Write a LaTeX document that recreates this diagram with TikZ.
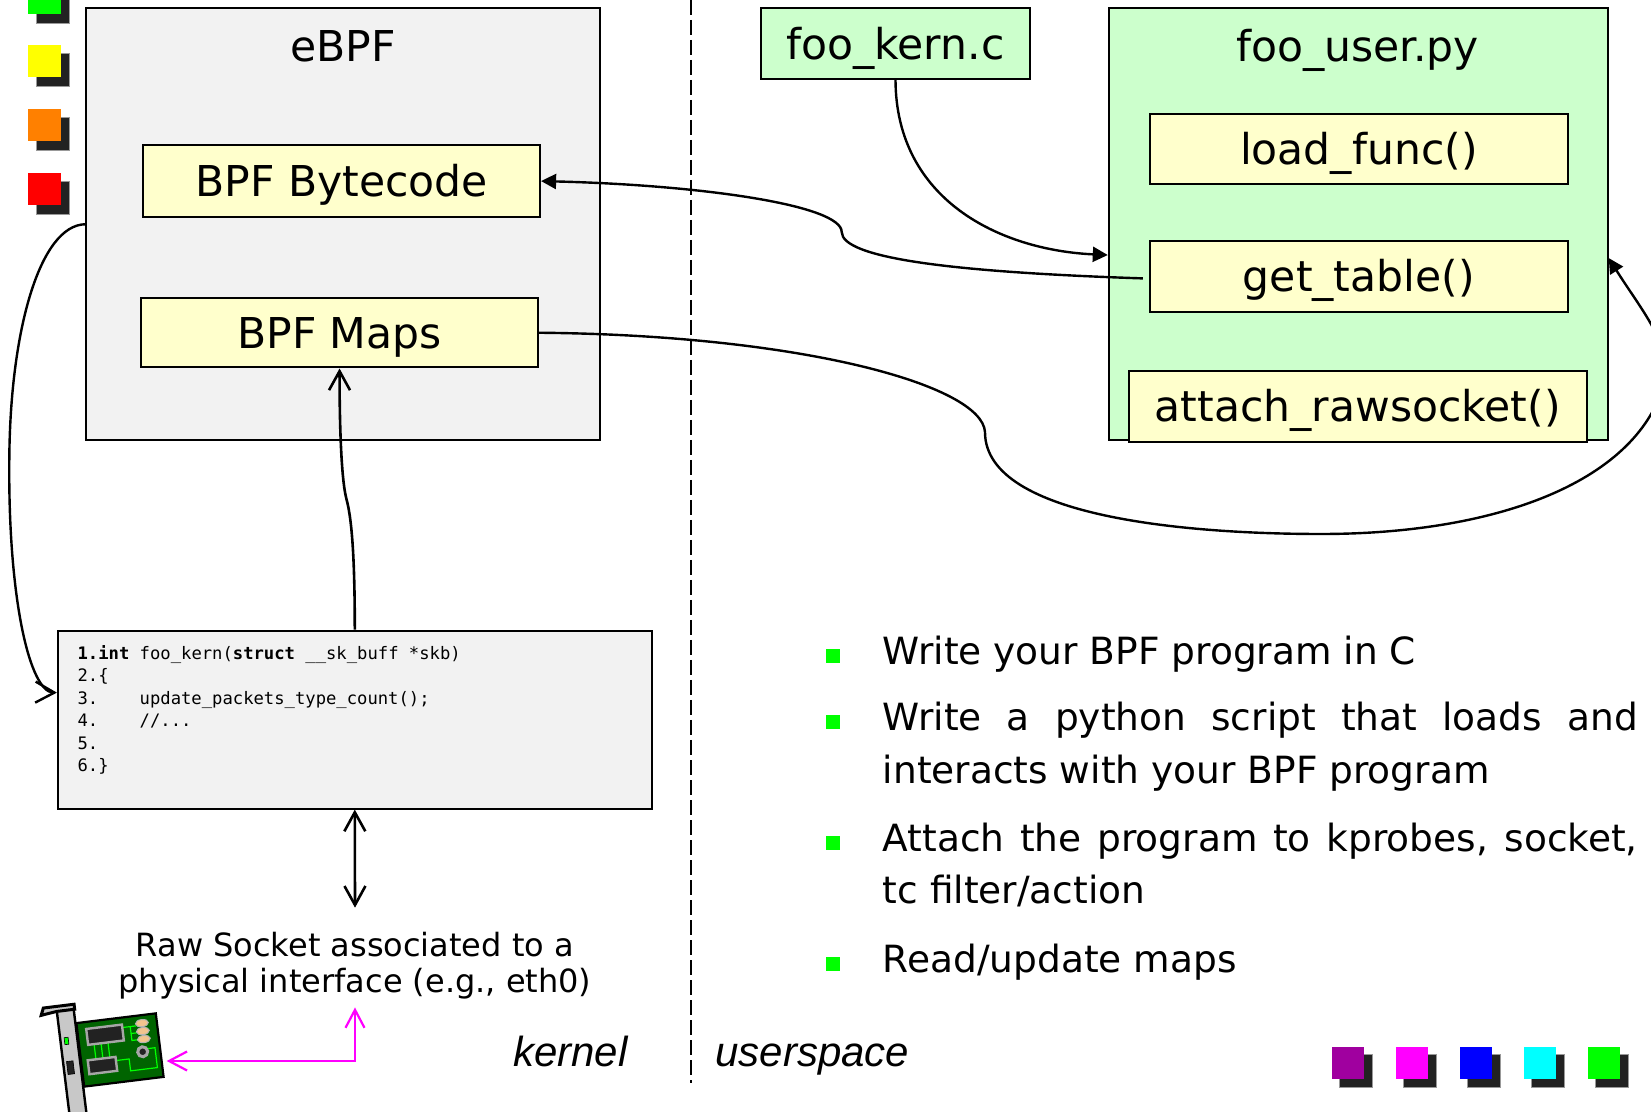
\documentclass[tikz,border=0pt]{standalone}
\usepackage{fontspec}
\setmainfont{DejaVu Sans}
\newfontfamily\codefont{DejaVu Sans Mono}
\newfontfamily\italfont{Liberation Sans}
\usetikzlibrary{arrows.meta}

\definecolor{panelgray}{HTML}{F2F2F2}
\definecolor{boxyellow}{HTML}{FFFFCC}
\definecolor{boxgreen}{HTML}{CCFFCC}
\definecolor{shadowgray}{HTML}{222222}
\definecolor{sqpurple}{HTML}{A0009F}
\definecolor{sqmagenta}{HTML}{FF00FF}
\definecolor{sqblue}{HTML}{0000FF}
\definecolor{sqcyan}{HTML}{00FFFF}
\definecolor{sqgreen}{HTML}{00FF00}
\definecolor{sqyellow}{HTML}{FFFF00}
\definecolor{sqorange}{HTML}{FF8000}
\definecolor{sqred}{HTML}{FF0000}
\definecolor{linkmagenta}{HTML}{FF00FF}
\definecolor{boardgreen}{HTML}{006400}
\definecolor{padtan}{HTML}{F2C48E}
\definecolor{bracketgray}{HTML}{C8C8C8}
\definecolor{tracegreen}{HTML}{00FF00}

% one justified bullet paragraph
\newcommand\itempar[1]{\parbox[t]{377.5pt}{\fontsize{18.75pt}{26.3pt}\selectfont
  \tolerance=9999 \hyphenpenalty=10000 \exhyphenpenalty=10000 #1}}

\begin{document}
\begin{tikzpicture}[x=0.5pt,y=-0.5pt,
  bigfont/.style={font=\fontsize{21.25pt}{25pt}\selectfont},
  panel/.style={draw=black,line width=0.9pt,inner sep=0pt},
  funcbox/.style={draw=black,line width=1pt,fill=boxyellow,inner sep=0pt,
      text height=15.5pt,text depth=0pt,bigfont,minimum height=35.3pt},
  title/.style={bigfont,anchor=base,inner sep=0pt},
  link/.style={draw=black,line width=1.2pt},
  barb/.style={-{Straight Barb[length=9.5pt,width=10.5pt]}},
  dbarb/.style={{Straight Barb[length=9.5pt,width=10.5pt]}-{Straight Barb[length=9.5pt,width=10.5pt]}},
  tri/.style={-{Triangle[length=7.5pt,width=7.5pt]}},
  hwlink/.style={draw=linkmagenta,line width=1.1pt,
      {Straight Barb[length=9pt,width=9.5pt]}-{Straight Barb[length=9pt,width=9.5pt]}},
  bullet/.style={fill=tracegreen,minimum size=7pt,inner sep=0pt},
  itemtext/.style={anchor=base west,inner sep=0pt},
  shadowsq/.style={fill=shadowgray,draw=gray!80,line width=0.4pt},
  spacelabel/.style={anchor=base west,inner sep=0pt,font=\italfont\itshape\fontsize{21pt}{25pt}\selectfont}
]
\useasboundingbox (0,0) rectangle (1651,1112);

% decorative squares, top left
\foreach \c/\yy in {sqgreen/-18.3, sqyellow/45, sqorange/109, sqred/173} {
  \filldraw[shadowsq] (36,\yy+8.3) rectangle ++(33.5,33.5);
  \fill[\c] (28,\yy) rectangle ++(33,32);
}
% decorative squares, bottom right
\foreach \c [count=\i from 0] in {sqpurple,sqmagenta,sqblue,sqcyan,sqgreen} {
  \filldraw[shadowsq] (1339.3+64*\i,1054) rectangle ++(33,33.5);
  \fill[\c] (1332+64*\i,1046.7) rectangle ++(32,32.3);
}

% kernel / userspace divider
\draw[black,line width=1pt,dash pattern=on 7.5pt off 2.5pt] (690.7,0) -- (690.7,1083);

% kernel side
\node[panel,fill=panelgray,minimum width=257pt,minimum height=215.85pt] (ebpf) at (343.25,224.25) {};
\node[title] (ebpftitle) at (343.3,62) {eBPF};
\node[funcbox,minimum width=198.45pt,minimum height=35.8pt] (bytecode) at (341.65,181.1) {BPF Bytecode};
\node[funcbox,minimum width=198.45pt,minimum height=34.75pt] (maps) at (339.55,332.75) {BPF Maps};

\node[panel,line width=1pt,fill=panelgray,minimum width=296.9pt,minimum height=88.95pt] (code) at (354.8,719.65) {};
\node[anchor=base west,inner sep=0pt] (listing) at (77.2,659.3) {\parbox[t]{280pt}{\raggedright
  \codefont\fontsize{8.6pt}{11.25pt}\selectfont
  \textbf{1.int} foo\_kern(\textbf{struct} \_\_sk\_buff *skb)\\
  2.\{\\
  3.\ \ \ \ update\_packets\_type\_count();\\
  4.\ \ \ \ //...\\
  5.\\
  6.\}}};

\node[anchor=base,inner sep=0pt] (socket) at (355,956) {\parbox[t]{250pt}{\centering
  \fontsize{16pt}{18pt}\selectfont Raw Socket associated to a\\ physical interface (e.g., eth0)}};

% network card
\begin{scope}[rotate around={7:(120,1050)}]
  \filldraw[fill=bracketgray,draw=black,line width=1.2pt] (62,1002) -- (79,1002) -- (79,1135) -- (62,1135) -- cycle;
  \filldraw[fill=bracketgray,draw=black,line width=1.5pt] (46,1006) -- (49,999) -- (80,999) -- (80,1004) -- (62,1004) -- cycle;
  \filldraw[fill=tracegreen,draw=black,line width=0.3pt] (66,1031) rectangle (70,1038);
  \filldraw[fill=shadowgray,draw=black,line width=0.3pt] (65.5,1055) rectangle (72,1068);
  \filldraw[fill=boardgreen,draw=black,line width=1.1pt] (80,1018) rectangle (160,1082);
  \draw[tracegreen,line width=0.6pt] (125,1028) -- (139,1028) (133,1028) -- (133,1042) -- (139,1042) (133,1035) -- (139,1035)
     (95,1041) -- (95,1057) (102,1041) -- (102,1057) (109,1041) -- (109,1057)
     (114.7,1060) -- (128,1060) -- (128,1072) -- (155,1072) -- (155,1052) -- (147,1052);
  \filldraw[fill=shadowgray,draw=gray!70,line width=1.2pt] (89,1025) rectangle (125,1041);
  \filldraw[fill=shadowgray,draw=gray!70,line width=1.2pt] (86.7,1056.3) rectangle (114.7,1070.3);
  \foreach \py in {1026,1034,1042}
    \filldraw[fill=padtan,draw=gray!60,line width=0.5pt] (145,\py) ellipse [x radius=6.5,y radius=3.6];
  \filldraw[fill=shadowgray,draw=gray!70,line width=1.5pt] (142.3,1054.5) circle [radius=5];
\end{scope}
\coordinate (nicport) at (166.7,1061);

% userspace side
\node[funcbox,fill=boxgreen,minimum width=134.2pt,minimum height=35.3pt] (fookern) at (895.5,43.7) {foo\_kern.c};
\node[panel,fill=boxgreen,minimum width=249.55pt,minimum height=215.85pt] (foouser) at (1358.25,224.25) {};
\node[title] (footitle) at (1357.7,62) {foo\_user.py};
\node[funcbox,minimum width=209pt] (loadfunc) at (1358.8,149) {load\_func()};
\node[funcbox,minimum width=209pt] (gettable) at (1358.8,276.4) {get\_table()};
\node[funcbox,minimum width=229pt,minimum height=35.8pt] (attach) at (1357.7,406.4) {attach\_rawsocket()};

% connectors
\draw[link,tri] ([xshift=-3pt,yshift=-1pt]gettable.west) .. controls (950,272) and (842,258) .. (841.7,232)
   .. controls (841.7,205) and (700,185) .. (bytecode.east);
\draw[link,tri] (fookern.south) .. controls (896,200) and (1000,250) .. ([yshift=-15.4pt]foouser.west);
\draw[link,tri] (maps.east) .. controls (800,335) and (982,385) .. (985,432)
   .. controls (985,520) and (1200,534) .. (1321,534)
   .. controls (1500,534) and (1640,480) .. (1665,380)
   .. controls (1672,345) and (1640,308) .. ([yshift=-16.9pt]foouser.east);
\draw[link,barb] (ebpf.west) .. controls (40,225) and (10,330) .. (9.3,460)
   .. controls (8,600) and (30,692) .. ([yshift=13.5pt]code.west);
\draw[link,line width=1.3pt,barb] (code.north) .. controls (354.8,560) and (352,520) .. (346.7,500)
   .. controls (341,480) and (339.5,420) .. (maps.south);
\draw[link,line width=1.3pt,dbarb] (code.south) -- ([yshift=11.8pt]socket.north);
\draw[hwlink] (nicport) -| ([yshift=-4.2pt]socket.south);

% bullet list
\node[bullet] (b1) at (833,656) {};
\node[bullet] (b2) at (833,722) {};
\node[bullet] (b3) at (833,843) {};
\node[bullet] (b4) at (833,964) {};
\node[itemtext] (item1) at (882.4,665) {\itempar{Write your BPF program in C}};
\node[itemtext] (item2) at (882.4,731) {\itempar{Write a python script that loads and interacts with your BPF program}};
\node[itemtext] (item3) at (882.4,851) {\itempar{Attach the program to kprobes, socket, tc filter/action}};
\node[itemtext] (item4) at (882.4,972) {\itempar{Read/update maps}};

% region labels
\node[spacelabel] (kernel) at (512.7,1066) {kernel};
\node[spacelabel] (userspace) at (715,1066) {userspace};
\end{tikzpicture}
\end{document}
